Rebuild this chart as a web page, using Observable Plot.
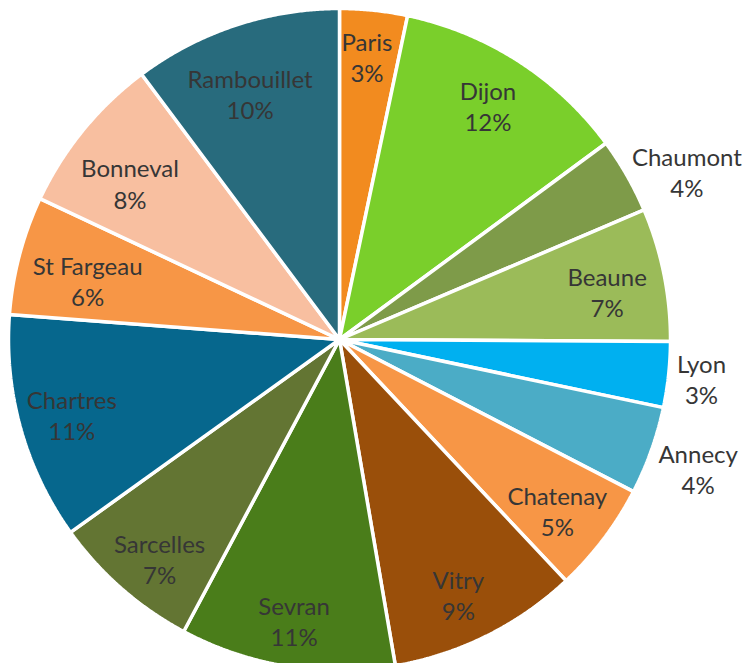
<!DOCTYPE html>
<html><head><meta charset="utf-8">
<script src="https://cdn.jsdelivr.net/npm/d3@7"></script>
<script src="https://cdn.jsdelivr.net/npm/@observablehq/plot@0.6"></script>
<style>body{margin:0;background:#fff}</style>
</head><body><div id="chart"></div>
<script>
const cities = ["Paris","Dijon","Chaumont","Beaune","Lyon","Annecy","Chatenay","Vitry","Sevran","Sarcelles","Chartres","St Fargeau","Bonneval","Rambouillet"];
const shares = [3.3, 11.6, 3.7, 6.5, 3.2, 4.3, 5.4, 9.3, 10.5, 7.3, 11.1, 5.8, 7.8, 10.2];
const colors = ["#F28B1F","#7ACF2B","#7E9B49","#9BBB59","#00B0F0","#4BACC6","#F79646","#9A4F0A","#4A7D1A","#637533","#06678D","#F79646","#F8BFA0","#286B7D"];

// layout (not data)
const W = 747, H = 663, CX = 339, CY = 339, R = 331;
const labelRadius = {Chaumont: 1.17, Lyon: 1.1, Annecy: 1.16, Sarcelles: 0.88, "St Fargeau": 0.79, Bonneval: 0.79, Rambouillet: 0.80, Paris: 0.86, Vitry: 0.86, Sevran: 0.86};
const labelNudge = {Chaumont: [11, -24], Beaune: [-5, -7], Chatenay: [-4, -3], Vitry: [-8, 0], Sarcelles: [12, 0], "St Fargeau": [1, -8], Bonneval: [-7, -9], Rambouillet: [-6, -5], Annecy: [-3, 0], Dijon: [-2, 0], Paris: [-2, 0]};

const total = d3.sum(shares);
const pts = [], labels = [];
let cum = 0;
cities.forEach((name, i) => {
  const a0 = cum / total * 2 * Math.PI;
  cum += shares[i];
  const a1 = cum / total * 2 * Math.PI;
  pts.push({name, x: 0, y: 0});
  const n = Math.max(2, Math.ceil((a1 - a0) / 0.005));
  for (let k = 0; k <= n; k++) {
    const a = a0 + (a1 - a0) * k / n;
    pts.push({name, x: R * Math.sin(a), y: R * Math.cos(a)});
  }
  pts.push({name, x: 0, y: 0});
  const am = (a0 + a1) / 2, lr = (labelRadius[name] ?? 0.84) * R;
  const [dx, dy] = labelNudge[name] ?? [0, 0];
  labels.push({name, x: lr * Math.sin(am) + dx, y: lr * Math.cos(am) + dy, text: `${name}\n${Math.round(shares[i] / total * 100)}%`});
});

const chart = Plot.plot({
  width: W, height: H, margin: 0,
  x: {domain: [-CX, W - CX], axis: null},
  y: {domain: [-(H - CY), CY], axis: null},
  color: {domain: cities, range: colors},
  style: {background: "#fff"},
  marks: [
    Plot.line(pts, {x: "x", y: "y", z: "name", fill: "name", stroke: "white", strokeWidth: 3.5, strokeLinejoin: "miter", curve: "linear"}),
    Plot.text(labels, {x: "x", y: "y", text: "text", fill: "#363636", fontSize: 24, fontFamily: "Lato", lineHeight: 1.3, textAnchor: "middle"})
  ]
});
document.getElementById("chart").appendChild(chart);
</script>
</body></html>
